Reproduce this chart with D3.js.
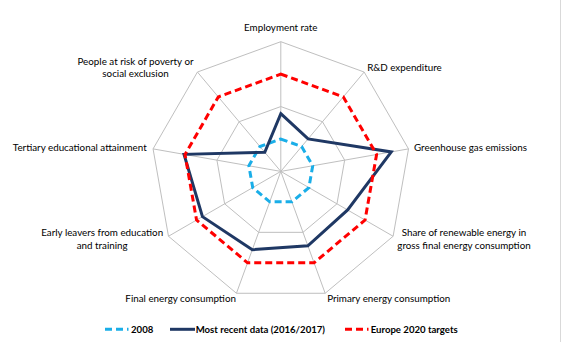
<!DOCTYPE html>
<html>
<head>
<meta charset="utf-8">
<script src="https://cdn.jsdelivr.net/npm/d3@7"></script>
<style>
html,body{margin:0;padding:0;background:#fff;}
svg{display:block;font-family:Lato,"Open Sans",sans-serif;}
</style>
</head>
<body>
<svg id="chart" width="561" height="342"></svg>
<script>
const categories = [
  ["Employment rate"],
  ["R&D expenditure"],
  ["Greenhouse gas emissions"],
  ["Share of renewable energy in", "gross final energy consumption"],
  ["Primary energy consumption"],
  ["Final energy consumption"],
  ["Early leavers from education", "and training"],
  ["Tertiary educational attainment"],
  ["People at risk of poverty or", "social exclusion"]
];
const seriesNames = ["2008", "Most recent data (2016/2017)", "Europe 2020 targets"];
const values2008   = [1, 1, 1, 1, 1, 1, 1, 1, 1];
const valuesRecent = [1.78, 1.31, 3.46, 2.38, 2.44, 2.57, 2.79, 3.03, 0.77];
const valuesTarget = [3, 3, 3, 3, 3, 3, 3, 3, 3];
const gridTicks = [2, 4];

const svg = d3.select("#chart");
const W = 561, H = 342;
const cx = 280.8, cy = 171.4, R = 129.7;
const n = categories.length;

const r = d3.scaleLinear().domain([0, 4]).range([0, R]);
const ang = d3.scaleLinear().domain([0, n]).range([0, 2 * Math.PI]);
const pt = (i, v) => [cx + r(v) * Math.sin(ang(i)), cy - r(v) * Math.cos(ang(i))];

const g = svg.append("g").attr("transform", `translate(${cx},${cy})`);
const radial = d3.lineRadial()
  .angle((d, i) => ang(i))
  .radius(d => r(d))
  .curve(d3.curveLinearClosed);

// right border line
svg.append("line").attr("x1", 560.5).attr("x2", 560.5).attr("y1", 0).attr("y2", H)
  .attr("stroke", "#d9d9d9").attr("stroke-width", 1);

// grid rings
g.selectAll("path.ring").data(gridTicks).join("path")
  .attr("class", "ring")
  .attr("d", t => radial(categories.map(() => t)))
  .attr("fill", "none").attr("stroke", "#bfbfbf").attr("stroke-width", 1);

// spokes
g.selectAll("line.spoke").data(categories).join("line")
  .attr("class", "spoke")
  .attr("x1", 0).attr("y1", 0)
  .attr("x2", (d, i) => r(4) * Math.sin(ang(i)))
  .attr("y2", (d, i) => -r(4) * Math.cos(ang(i)))
  .attr("stroke", "#bfbfbf").attr("stroke-width", 1);

const styles = [
  {color: "#1aaee8", dash: "7,4", width: 3},
  {color: "#1f3864", dash: null, width: 3},
  {color: "#ff0000", dash: "7,4", width: 3}
];
const allSeries = [values2008, valuesRecent, valuesTarget];
allSeries.forEach((vals, k) => {
  g.append("path")
    .attr("d", radial(vals))
    .attr("fill", "none")
    .attr("stroke", styles[k].color)
    .attr("stroke-width", styles[k].width)
    .attr("stroke-dasharray", styles[k].dash)
    .attr("stroke-linejoin", "miter");
});

// category labels
const labelCfg = [
  {anchor: "middle", dx: 0, dy: -14.5},
  {anchor: "start", dx: 3, dy: -4.5},
  {anchor: "start", dx: 5.5, dy: -1.2},
  {anchor: "middle", dx: 70.9, dy: 3},
  {anchor: "start", dx: 2, dy: 5},
  {anchor: "end", dx: -0.5, dy: 5},
  {anchor: "middle", dx: -66.3, dy: 3},
  {anchor: "end", dx: -6.4, dy: -1.2},
  {anchor: "middle", dx: -61.9, dy: -4.4}
];
const lineH = 12.8;
categories.forEach((lines, i) => {
  const [vx, vy] = pt(i, 4);
  const c = labelCfg[i];
  const t = svg.append("text")
    .attr("text-anchor", c.anchor)
    .attr("font-size", 9.8)
    .attr("fill", "#000");
  const y0 = vy + c.dy - (lines.length - 1) * lineH / 2;
  lines.forEach((s, j) => {
    t.append("tspan")
      .attr("x", vx + c.dx)
      .attr("y", y0 + j * lineH)
      .attr("dy", "0.35em")
      .text(s);
  });
});

// legend
const legendY = 329.3;
const legendItems = [
  {x1: 105, x2: 128.5, tx: 131},
  {x1: 170, x2: 195, tx: 195.7},
  {x1: 345, x2: 368.5, tx: 370.7}
];
seriesNames.forEach((name, k) => {
  const L = legendItems[k];
  svg.append("line")
    .attr("x1", L.x1).attr("x2", L.x2).attr("y1", legendY).attr("y2", legendY)
    .attr("stroke", styles[k].color).attr("stroke-width", styles[k].width)
    .attr("stroke-dasharray", styles[k].dash);
  svg.append("text")
    .attr("x", L.tx).attr("y", legendY).attr("dy", "0.35em")
    .attr("font-size", 9.6).attr("font-weight", "bold").attr("fill", "#000")
    .text(name);
});
</script>
</body>
</html>
